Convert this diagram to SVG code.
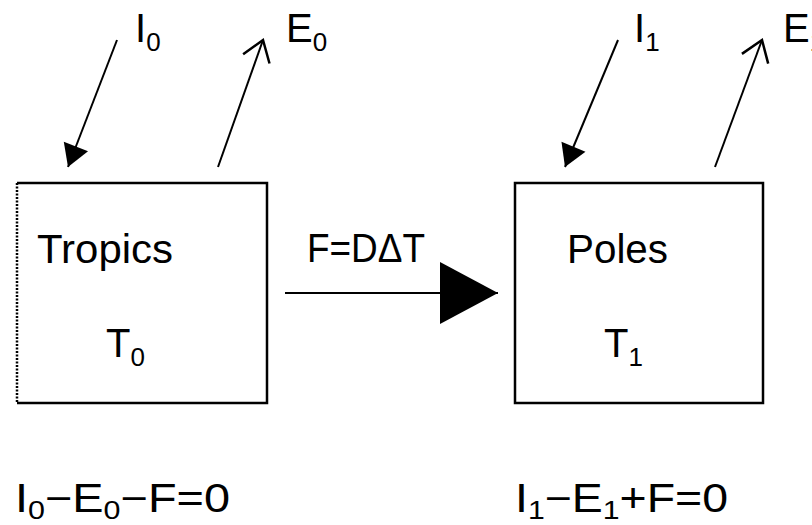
<svg xmlns="http://www.w3.org/2000/svg" width="812" height="525" viewBox="0 0 812 525">
<style>
text{font-family:"Liberation Sans",Arial,sans-serif;fill:#000}
.lbl{font-size:40px}
.sub{font-size:26px}
.box{fill:none;stroke:#000;stroke-width:2.5}
.dot{fill:none;stroke:#000;stroke-width:2.5;stroke-dasharray:2 1.5}
.ln{fill:none;stroke:#000;stroke-width:2}
</style>
<defs>
<marker id="fill" markerUnits="userSpaceOnUse" markerWidth="30" markerHeight="30" refX="22" refY="0" viewBox="0 -15 24 30" orient="auto" overflow="visible">
<path d="M0,-13 L22,0 L0,13 z" fill="#000"/>
</marker>
<marker id="open" markerUnits="userSpaceOnUse" markerWidth="30" markerHeight="34" refX="20" refY="0" viewBox="0 -17 24 34" orient="auto" overflow="visible">
<path d="M0,-14 L20,0 L0,14" fill="none" stroke="#000" stroke-width="2.5"/>
</marker>
<marker id="big" markerUnits="userSpaceOnUse" markerWidth="60" markerHeight="64" refX="58" refY="0" viewBox="0 -32 60 64" orient="auto" overflow="visible">
<path d="M0,-31 L58,0 L0,31 z" fill="#000"/>
</marker>
</defs>

<g id="tropics">
<path class="box" d="M17,183 H267 V403 H17"/>
<path class="dot" d="M17,183 V403"/>
<text class="lbl" x="37" y="263" textLength="136" lengthAdjust="spacingAndGlyphs">Tropics</text>
<text class="lbl" x="106" y="357">T<tspan class="sub" dy="9">0</tspan></text>
</g>

<g id="poles">
<rect class="box" x="515" y="183" width="248" height="220"/>
<text class="lbl" x="567" y="263" textLength="101" lengthAdjust="spacingAndGlyphs">Poles</text>
<text class="lbl" x="604" y="357">T<tspan class="sub" dy="9">1</tspan></text>
</g>

<g id="labels">
<text class="lbl" x="135" y="42">I<tspan class="sub" dy="9">0</tspan></text>
<text class="lbl" x="286" y="42">E<tspan class="sub" dy="9">0</tspan></text>
<text class="lbl" x="634" y="42">I<tspan class="sub" dy="9">1</tspan></text>
<text class="lbl" x="783" y="42">E<tspan class="sub" dy="9">1</tspan></text>
<text class="lbl" x="307" y="262" textLength="118" lengthAdjust="spacingAndGlyphs">F=DΔT</text>
</g>

<g id="equations">
<text class="lbl" x="15" y="512" textLength="215" lengthAdjust="spacingAndGlyphs">I<tspan class="sub" dy="7">0</tspan><tspan dy="-7">−E</tspan><tspan class="sub" dy="7">0</tspan><tspan dy="-7">−F=0</tspan></text>
<text class="lbl" x="515" y="512" textLength="213" lengthAdjust="spacingAndGlyphs">I<tspan class="sub" dy="7">1</tspan><tspan dy="-7">−E</tspan><tspan class="sub" dy="7">1</tspan><tspan dy="-7">+F=0</tspan></text>
</g>

<g id="connectors">
<line class="ln" x1="117" y1="40" x2="68" y2="167" marker-end="url(#fill)"/>
<line class="ln" x1="218" y1="167" x2="263" y2="40" marker-end="url(#open)"/>
<line class="ln" x1="618" y1="40" x2="565" y2="167" marker-end="url(#fill)"/>
<line class="ln" x1="715" y1="167" x2="762" y2="40" marker-end="url(#open)"/>
<line class="ln" x1="285" y1="293" x2="498" y2="293" marker-end="url(#big)"/>
</g>
</svg>
